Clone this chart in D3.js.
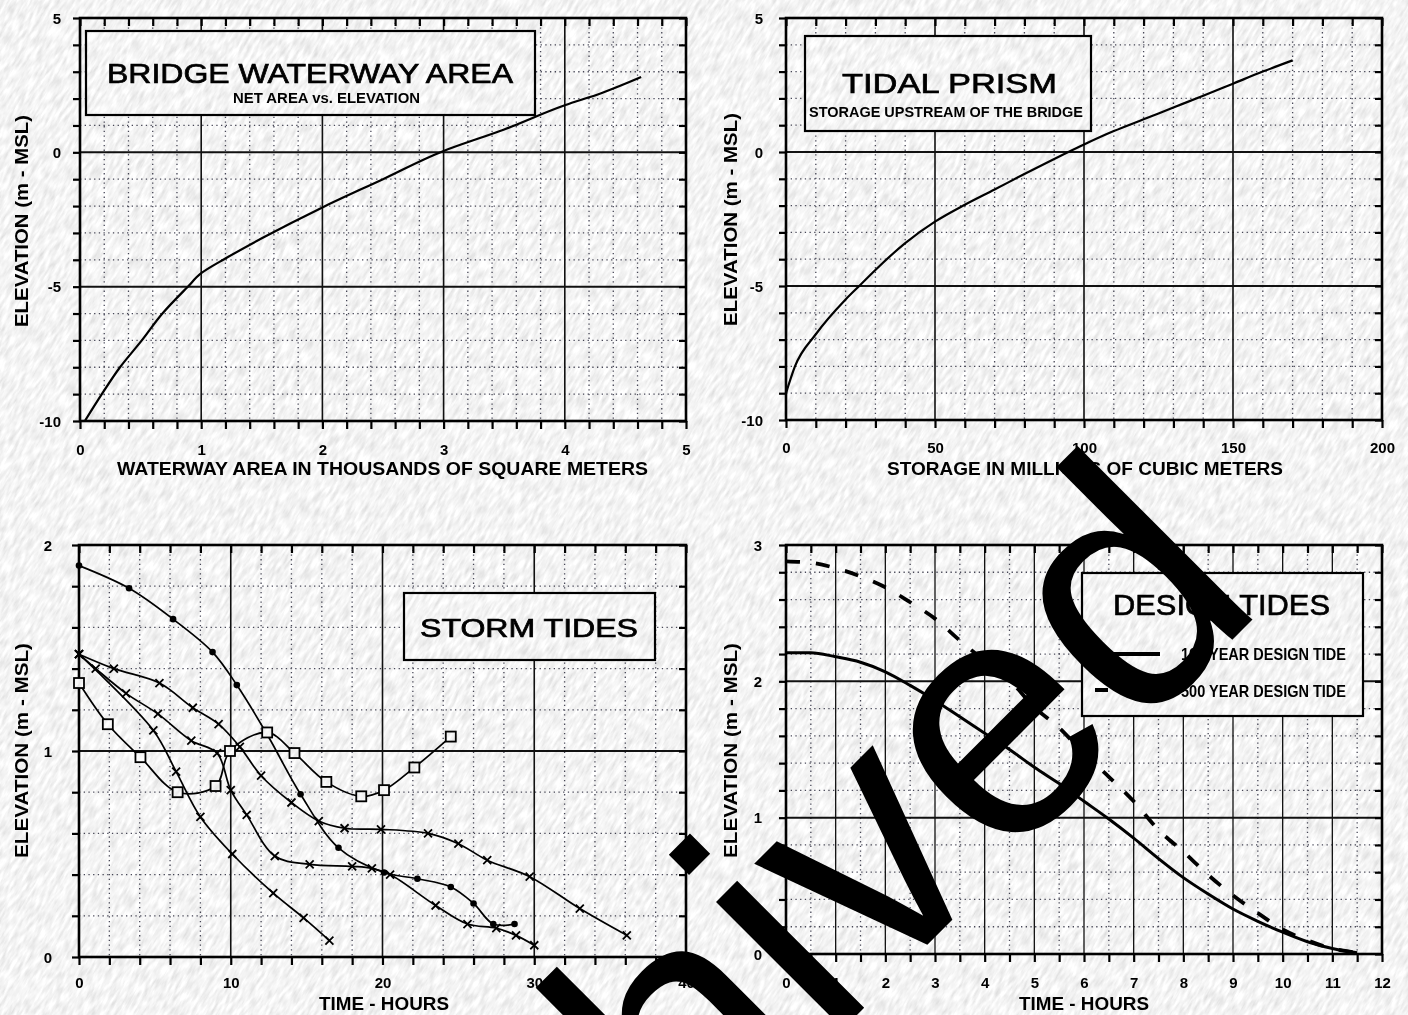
<!DOCTYPE html>
<html><head><meta charset="utf-8">
<script src="https://cdn.jsdelivr.net/npm/d3@7"></script>
<style>
body{margin:0;background:#fff}
svg{display:block}
</style></head>
<body>
<svg id="chart" width="1408" height="1015"></svg>
<script>
// ---------- DATA ----------
// Panel 1: Bridge waterway area (thousands of m^2) vs elevation (m MSL)
const areaK    = [0.04, 0.18, 0.33, 0.51, 0.68, 0.89, 1.0, 1.2, 1.5, 2.0, 2.5, 3.0, 3.5, 4.0, 4.3, 4.63];
const areaElev = [-10, -9, -8, -7, -6, -5, -4.5, -3.95, -3.2, -2.05, -1.0, 0.05, 0.85, 1.75, 2.2, 2.8];
// Panel 2: Tidal prism storage (millions of m^3) vs elevation
const storageM    = [0, 3, 10, 20, 25, 30, 40, 50, 60, 70, 80, 90, 100, 110, 120, 130, 140, 150, 160, 170];
const storageElev = [-9, -8, -6.8, -5.5, -4.95, -4.4, -3.4, -2.6, -1.97, -1.4, -0.82, -0.26, 0.28, 0.78, 1.22, 1.66, 2.1, 2.55, 3.0, 3.42];
// Panel 3: Storm tides (hours, m MSL)
const stormHours1 = [0, 3.3, 6.2, 8.8, 10.4, 12.4, 14.6, 17.1, 20.1, 22.3, 24.5, 26.0, 27.3, 28.7];
const stormElev1  = [1.90, 1.79, 1.64, 1.48, 1.32, 1.08, 0.79, 0.53, 0.41, 0.38, 0.34, 0.26, 0.16, 0.16];
const stormHours2 = [0, 2.3, 5.3, 7.5, 9.2, 10.6, 12.0, 14.0, 15.8, 17.5, 19.9, 23.0, 25.0, 26.9, 29.7, 33.0, 36.1];
const stormElev2  = [1.47, 1.40, 1.33, 1.21, 1.13, 1.02, 0.88, 0.75, 0.66, 0.625, 0.62, 0.60, 0.55, 0.47, 0.39, 0.235, 0.105];
const stormHours3 = [0, 1.9, 4.05, 6.5, 9.0, 9.95, 12.4, 14.2, 16.3, 18.6, 20.1, 22.1, 24.5];
const stormElev3  = [1.33, 1.13, 0.97, 0.80, 0.83, 1.00, 1.09, 0.99, 0.85, 0.78, 0.81, 0.92, 1.07];
const stormHours4 = [0, 4.9, 6.4, 8.0, 10.1, 12.8, 14.8, 16.5];
const stormElev4  = [1.47, 1.10, 0.90, 0.68, 0.50, 0.31, 0.19, 0.08];
const stormHours5 = [0, 1.1, 3.1, 5.2, 7.4, 9.1, 10.0, 11.05, 12.9, 15.2, 18.0, 19.3, 20.5, 23.5, 25.6, 27.5, 28.8, 30.0];
const stormElev5  = [1.47, 1.40, 1.28, 1.18, 1.05, 0.99, 0.81, 0.69, 0.49, 0.45, 0.44, 0.43, 0.40, 0.25, 0.16, 0.14, 0.105, 0.057];
// Panel 4: Design tides
const designHours = [0, 0.5, 1, 1.5, 2, 2.5, 3, 3.5, 4, 4.5, 5, 5.5, 6, 6.5, 7, 7.5, 8, 8.5, 9, 9.5, 10, 10.5, 11, 11.5];
const tide100 = [2.21, 2.21, 2.18, 2.14, 2.07, 1.97, 1.86, 1.74, 1.62, 1.50, 1.37, 1.25, 1.12, 0.99, 0.85, 0.70, 0.56, 0.44, 0.33, 0.24, 0.16, 0.09, 0.04, 0.01];
const tide500 = [2.88, 2.87, 2.83, 2.77, 2.69, 2.58, 2.46, 2.30, 2.15, 2.01, 1.81, 1.66, 1.47, 1.30, 1.12, 0.91, 0.75, 0.58, 0.43, 0.30, 0.18, 0.10, 0.04, 0.01];
// Tick labels
const p1XTicks = [0, 1, 2, 3, 4, 5];
const p1YTicks = [5, 0, -5, -10];
const p2XTicks = [0, 50, 100, 150, 200];
const p2YTicks = [5, 0, -5, -10];
const p3XTicks = [0, 10, 20, 30, 40];
const p3YTicks = [2, 1, 0];
const p4XTicks = [0, 1, 2, 3, 4, 5, 6, 7, 8, 9, 10, 11, 12];
const p4YTicks = [3, 2, 1, 0];

// ---------- SETUP ----------
const svg = d3.select('#chart');
const defs = svg.append('defs');
const f = defs.append('filter').attr('id','paper').attr('x',0).attr('y',0).attr('width',1).attr('height',1);
f.append('feTurbulence').attr('type','fractalNoise').attr('baseFrequency','0.30 0.07').attr('numOctaves',3).attr('seed',11).attr('result','n');
f.append('feColorMatrix').attr('in','n').attr('type','matrix')
 .attr('values','-0.45 0 0 0 1.13  -0.45 0 0 0 1.13  -0.45 0 0 0 1.13  0 0 0 0 1');

svg.append('rect').attr('width',1408).attr('height',1015).attr('fill','#fff');

const NARROW = "'Liberation Sans Narrow','Liberation Sans',Arial,sans-serif";
const SANS = "'Liberation Sans',Arial,Helvetica,sans-serif";

function rng(a,b,s){const out=[];const n=Math.round((b-a)/s);for(let i=0;i<=n;i++)out.push(+(a+i*s).toFixed(6));return out;}

function panel(c){
  const x = d3.scaleLinear().domain(c.xd).range([c.x0,c.x1]);
  const y = d3.scaleLinear().domain(c.yd).range([c.y1,c.y0]);
  const g = svg.append('g');
  const xMinor = rng(c.xd[0],c.xd[1],c.xMinor);
  const yMinor = rng(c.yd[0],c.yd[1],c.yMinor);
  const isMaj=(arr,v)=>arr.some(m=>Math.abs(m-v)<1e-6);
  g.selectAll(null).data(xMinor.filter(v=>!isMaj(c.xMajor,v)&&v>c.xd[0]&&v<c.xd[1])).join('line')
    .attr('x1',d=>x(d)).attr('x2',d=>x(d)).attr('y1',c.y0).attr('y2',c.y1)
    .attr('stroke','#4a4a5a').attr('stroke-width',1.3).attr('stroke-dasharray','1.3,3.4');
  g.selectAll(null).data(yMinor.filter(v=>!isMaj(c.yMajor,v)&&v>c.yd[0]&&v<c.yd[1])).join('line')
    .attr('y1',d=>y(d)).attr('y2',d=>y(d)).attr('x1',c.x0).attr('x2',c.x1)
    .attr('stroke','#4a4a5a').attr('stroke-width',1.3).attr('stroke-dasharray','1.3,3.4');
  g.selectAll(null).data(c.xMajor).join('line')
    .attr('x1',d=>x(d)).attr('x2',d=>x(d)).attr('y1',c.y0).attr('y2',c.y1)
    .attr('stroke','#111').attr('stroke-width',c.xMajW||1.6);
  g.selectAll(null).data(c.yMajor).join('line')
    .attr('y1',d=>y(d)).attr('y2',d=>y(d)).attr('x1',c.x0).attr('x2',c.x1)
    .attr('stroke','#111').attr('stroke-width',2);
  const tickStyle = sel=>{sel.select('.domain').remove();sel.selectAll('line').attr('stroke','#000').attr('stroke-width',2.2);};
  g.append('g').attr('transform',`translate(0,${c.y1})`).call(d3.axisBottom(x).tickValues(xMinor).tickSize(8).tickFormat('')).call(tickStyle);
  g.append('g').attr('transform',`translate(0,${c.y0})`).call(d3.axisTop(x).tickValues(xMinor).tickSize(-8).tickFormat('')).call(tickStyle);
  g.append('g').attr('transform',`translate(${c.x0},0)`).call(d3.axisLeft(y).tickValues(yMinor).tickSize(7).tickFormat('')).call(tickStyle);
  g.append('g').attr('transform',`translate(${c.x1},0)`).call(d3.axisRight(y).tickValues(yMinor).tickSize(-7).tickFormat('')).call(tickStyle);
  const fmt = d=>String(d);
  const xl = g.append('g').attr('transform',`translate(0,${c.y1})`).call(d3.axisBottom(x).tickValues(c.xTicks).tickSize(0).tickFormat(fmt));
  xl.select('.domain').remove();
  xl.selectAll('text').attr('y',c.xTickY-c.y1).attr('dy',0).attr('font-family',NARROW).attr('font-weight','bold').attr('font-size',15).attr('fill','#000');
  const yl = g.append('g').attr('transform',`translate(${c.x0},0)`).call(d3.axisLeft(y).tickValues(c.yTicks).tickSize(0).tickFormat(fmt));
  yl.select('.domain').remove();
  yl.selectAll('text').attr('x',c.yTickX-c.x0).attr('dy','0.35em').attr('font-family',NARROW).attr('font-weight','bold').attr('font-size',15).attr('fill','#000');
  g.append('rect').attr('x',c.x0).attr('y',c.y0).attr('width',c.x1-c.x0).attr('height',c.y1-c.y0)
    .attr('fill','none').attr('stroke','#000').attr('stroke-width',2.6);
  g.append('text').attr('x',(c.xlab[0]+c.xlab[1])/2).attr('y',c.xlabY).attr('text-anchor','middle')
    .attr('font-family',NARROW).attr('font-weight','bold').attr('font-size',19)
    .attr('textLength',c.xlab[1]-c.xlab[0]).attr('lengthAdjust','spacingAndGlyphs').text(c.xTitle);
  g.append('text').attr('transform',`translate(${c.ylabX},${(c.ylab[0]+c.ylab[1])/2}) rotate(-90)`).attr('text-anchor','middle')
    .attr('font-family',NARROW).attr('font-weight','bold').attr('font-size',19).attr('dy','0.35em')
    .attr('textLength',c.ylab[1]-c.ylab[0]).attr('lengthAdjust','spacingAndGlyphs').text('ELEVATION (m - MSL)');
  return {x,y,g};
}

function titleBox(g,b){
  g.append('rect').attr('x',b.x).attr('y',b.y).attr('width',b.w).attr('height',b.h)
    .attr('fill','#fff').attr('stroke','#000').attr('stroke-width',2.2);
  b.lines.forEach(l=>{
    g.append('text').attr('x',(l.x0+l.x1)/2).attr('y',l.y).attr('text-anchor','middle')
      .attr('font-family',l.narrow?NARROW:SANS).attr('font-weight',l.narrow?'bold':'normal')
      .attr('font-size',l.size).attr('textLength',l.x1-l.x0).attr('lengthAdjust','spacingAndGlyphs')
      .attr('fill','#000').attr('stroke',l.narrow?'none':'#000').attr('stroke-width',l.narrow?0:0.7).text(l.t);
  });
}

// ---------- PANEL 1 ----------
const P1 = panel({x0:80,x1:686,y0:18,y1:421,xd:[0,5],yd:[-10,5],xMinor:0.2,yMinor:1,xMajor:[1,2,3,4],yMajor:[-5,0],
  xTicks:p1XTicks,yTicks:p1YTicks,xTickY:455,yTickX:61,xlab:[117,648],xlabY:475,ylab:[115,327],ylabX:21,
  xTitle:'WATERWAY AREA IN THOUSANDS OF SQUARE METERS'});
titleBox(P1.g,{x:86,y:31,w:449,h:84,lines:[
  {t:'BRIDGE WATERWAY AREA',x0:107,x1:513,y:83,size:28},
  {t:'NET AREA vs. ELEVATION',x0:233,x1:420,y:103,size:15,narrow:true}]});
P1.g.append('path').datum(areaK.map((v,i)=>[v,areaElev[i]]))
  .attr('d',d3.line().x(d=>P1.x(d[0])).y(d=>P1.y(d[1])).curve(d3.curveMonotoneY))
  .attr('fill','none').attr('stroke','#000').attr('stroke-width',2.2);

// ---------- PANEL 2 ----------
const P2 = panel({x0:786,x1:1382,y0:18,y1:420,xd:[0,200],yd:[-10,5],xMinor:10,yMinor:1,xMajor:[50,100,150],yMajor:[-5,0],
  xTicks:p2XTicks,yTicks:p2YTicks,xTickY:453,yTickX:763,xlab:[887,1283],xlabY:475,ylab:[113,326],ylabX:730,
  xTitle:'STORAGE IN MILLIONS OF CUBIC METERS'});
titleBox(P2.g,{x:805,y:36,w:286,h:95,lines:[
  {t:'TIDAL PRISM',x0:842,x1:1057,y:93,size:28},
  {t:'STORAGE UPSTREAM OF THE BRIDGE',x0:809,x1:1083,y:117,size:15,narrow:true}]});
P2.g.append('path').datum(storageM.map((v,i)=>[v,storageElev[i]]))
  .attr('d',d3.line().x(d=>P2.x(d[0])).y(d=>P2.y(d[1])).curve(d3.curveMonotoneX))
  .attr('fill','none').attr('stroke','#000').attr('stroke-width',2.2);

// ---------- PANEL 3 ----------
const P3 = panel({x0:79,x1:686,y0:545,y1:957,xd:[0,40],yd:[0,2],xMinor:2,yMinor:0.2,xMajor:[10,20,30],yMajor:[1],
  xTicks:p3XTicks,yTicks:p3YTicks,xTickY:988,yTickX:52,xlab:[319,449],xlabY:1010,ylab:[643,858],ylabX:21,
  xTitle:'TIME - HOURS'});
titleBox(P3.g,{x:404,y:593,w:251,h:67,lines:[
  {t:'STORM  TIDES',x0:420,x1:638,y:637,size:25}]});
const stormSeries = [
  {h:stormHours1,v:stormElev1,m:'dot'},
  {h:stormHours2,v:stormElev2,m:'x'},
  {h:stormHours3,v:stormElev3,m:'sq'},
  {h:stormHours4,v:stormElev4,m:'x'},
  {h:stormHours5,v:stormElev5,m:'x'}];
const sline = d3.line().x(d=>P3.x(d[0])).y(d=>P3.y(d[1])).curve(d3.curveCatmullRom.alpha(0.5));
stormSeries.forEach(s=>{
  const pts = s.h.map((v,i)=>[v,s.v[i]]);
  P3.g.append('path').datum(pts).attr('d',sline).attr('fill','none').attr('stroke','#000').attr('stroke-width',1.7);
});
stormSeries.forEach(s=>{
  const pts = s.h.map((v,i)=>[v,s.v[i]]);
  const mg = P3.g.append('g');
  pts.forEach(p=>{
    const cx=P3.x(p[0]), cy=P3.y(p[1]);
    if(s.m==='dot') mg.append('circle').attr('cx',cx).attr('cy',cy).attr('r',3.3).attr('fill','#000');
    else if(s.m==='sq') mg.append('rect').attr('x',cx-5).attr('y',cy-5).attr('width',10).attr('height',10)
         .attr('fill','#fff').attr('stroke','#000').attr('stroke-width',1.8);
    else mg.append('path').attr('d',`M${cx-4},${cy-4}L${cx+4},${cy+4}M${cx-4},${cy+4}L${cx+4},${cy-4}`)
         .attr('stroke','#000').attr('stroke-width',1.8);
  });
});

// ---------- PANEL 4 ----------
const P4 = panel({x0:786,x1:1382,y0:545,y1:954,xd:[0,12],yd:[0,3],xMinor:0.5,yMinor:0.2,xMajor:[1,2,3,4,5,6,7,8,9,10,11],xMajW:1.3,yMajor:[1,2],
  xTicks:p4XTicks,yTicks:p4YTicks,xTickY:988,yTickX:762,xlab:[1019,1149],xlabY:1010,ylab:[643,858],ylabX:730,
  xTitle:'TIME - HOURS'});
const tline = d3.line().x(d=>P4.x(d[0])).y(d=>P4.y(d[1])).curve(d3.curveMonotoneX);
P4.g.append('path').datum(designHours.map((v,i)=>[v,tide500[i]])).attr('d',tline)
  .attr('fill','none').attr('stroke','#000').attr('stroke-width',3.8).attr('stroke-dasharray','14,16');
P4.g.append('path').datum(designHours.map((v,i)=>[v,tide100[i]])).attr('d',tline)
  .attr('fill','none').attr('stroke','#000').attr('stroke-width',3);
titleBox(P4.g,{x:1082,y:573,w:281,h:143,lines:[
  {t:'DESIGN TIDES',x0:1113,x1:1330,y:615,size:30},
  {t:'100 YEAR DESIGN TIDE',x0:1181,x1:1346,y:660,size:17,narrow:true},
  {t:'500 YEAR DESIGN TIDE',x0:1181,x1:1346,y:697,size:17,narrow:true}]});
P4.g.append('line').attr('x1',1095).attr('x2',1160).attr('y1',654).attr('y2',654).attr('stroke','#000').attr('stroke-width',4);
P4.g.append('line').attr('x1',1095).attr('x2',1144).attr('y1',690).attr('y2',690).attr('stroke','#000').attr('stroke-width',4).attr('stroke-dasharray','13,22');

// ---------- PAPER TEXTURE (multiply) ----------
svg.append('rect').attr('x',-600).attr('y',-700).attr('width',2600).attr('height',2500)
  .attr('transform','rotate(30 704 507)').attr('filter','url(#paper)').style('mix-blend-mode','multiply');

// ---------- WATERMARK ----------
svg.append('text').attr('transform','translate(1268,604) rotate(-45)').attr('text-anchor','end')
  .attr('font-family',SANS).attr('font-size',340).attr('fill','#000').text('Archived');
</script>
</body></html>
